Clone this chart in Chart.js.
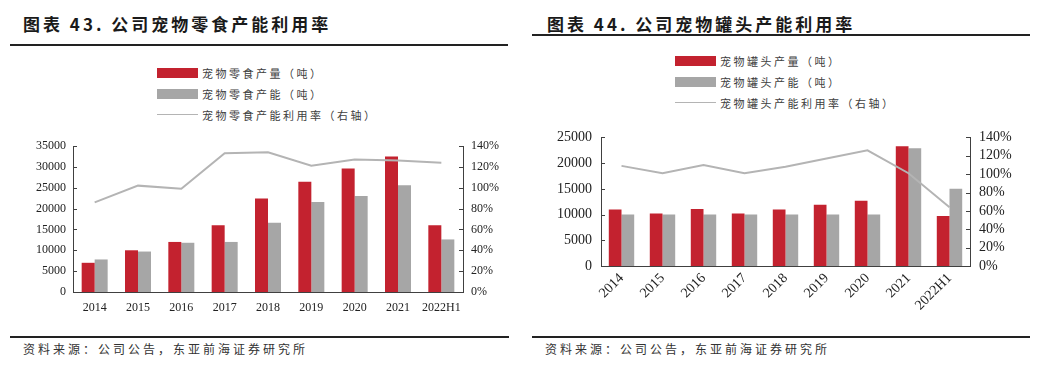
<!DOCTYPE html>
<html>
<head>
<meta charset="utf-8">
<script src="https://cdn.jsdelivr.net/npm/chart.js@4"></script>
<style>
  body { margin: 0; background: #fff; width: 1043px; height: 367px; position: relative; overflow: hidden; }
  .abs { position: absolute; }
  .title { font-family: "Noto Sans CJK SC", sans-serif; font-weight: bold; font-size: 17px; line-height: 20px; letter-spacing: 3px; color: #1a1a1a; white-space: nowrap; }
  .rule { background: #222; height: 2px; }
  .foot { font-family: "Noto Sans CJK SC", sans-serif; font-size: 12px; line-height: 14px; letter-spacing: 3px; color: #333; white-space: nowrap; }
  .legend { font-family: "Noto Sans CJK SC", sans-serif; font-size: 11px; letter-spacing: 2.5px; color: #404040; }
  .legend .row { display: flex; align-items: center; height: 21px; white-space: nowrap; }
  .legend .sw { width: 41px; margin-right: 4px; }
</style>
</head>
<body>
<div class="abs title" style="left:23px; top:14px;">图表 43. 公司宠物零食产能利用率</div>
<div class="abs rule" style="left:10px; top:44px; width:498px;"></div>
<div class="abs title" style="left:547px; top:14px;">图表 44. 公司宠物罐头产能利用率</div>
<div class="abs rule" style="left:532px; top:34px; width:498px;"></div>

<div id="legend1" class="abs legend" style="left:157px; top:62px;"></div>
<div id="legend2" class="abs legend" style="left:675px; top:50px;"></div>

<canvas id="snackChart" class="abs" width="520" height="190" style="left:0; top:130px;"></canvas>
<canvas id="canChart" class="abs" width="523" height="200" style="left:520px; top:120px;"></canvas>

<div class="abs rule" style="left:10px; top:336px; width:499px;"></div>
<div class="abs rule" style="left:532px; top:336px; width:498px;"></div>
<div class="abs foot" style="left:23px; top:342px;">资料来源：公司公告，东亚前海证券研究所</div>
<div class="abs foot" style="left:545px; top:342px;">资料来源：公司公告，东亚前海证券研究所</div>

<script>
// data
const years = ['2014', '2015', '2016', '2017', '2018', '2019', '2020', '2021', '2022H1'];

const snackOutput = [7000, 10000, 12000, 16000, 22400, 26400, 29600, 32500, 16000];
const snackCapacity = [7800, 9700, 11800, 12000, 16600, 21600, 23000, 25600, 12600];
const snackUtil = [86, 102, 99, 133, 134, 121, 127, 126, 124];
const snackLabels = ['宠物零食产量（吨）', '宠物零食产能（吨）', '宠物零食产能利用率（右轴）'];

const canOutput = [11000, 10200, 11100, 10200, 11000, 11900, 12700, 23300, 9700];
const canCapacity = [10000, 10000, 10000, 10000, 10000, 10000, 10000, 22900, 15000];
const canUtil = [109, 101, 110, 101, 108, 117, 126, 101, 64];
const canLabels = ['宠物罐头产量（吨）', '宠物罐头产能（吨）', '宠物罐头产能利用率（右轴）'];

const RED = '#C3222F';
const GRAY = '#A6A6A6';
const LINE = '#B4B4B4';
const AXIS = '#404040';

// ticks pointing into the plot, like the original
const inwardTicks = {
  id: 'inwardTicks',
  afterDraw(chart) {
    const ctx = chart.ctx;
    const a = chart.chartArea;
    ctx.save();
    ctx.strokeStyle = AXIS;
    ctx.lineWidth = 1;
    ['y', 'y1'].forEach(id => {
      const s = chart.scales[id];
      const x = id === 'y' ? a.left : a.right;
      const dir = id === 'y' ? 1 : -1;
      s.ticks.forEach((t, i) => {
        const py = Math.round(s.getPixelForTick(i)) + 0.5;
        ctx.beginPath();
        ctx.moveTo(x, py);
        ctx.lineTo(x + dir * 4, py);
        ctx.stroke();
      });
    });
    ctx.restore();
  }
};

function makeLegend(el, labels) {
  const swatches = [
    'height:10px;background:' + RED,
    'height:10px;background:' + GRAY,
    'height:1.5px;background:' + LINE
  ];
  el.innerHTML = labels.map((l, i) =>
    '<div class="row"><span class="sw" style="' + swatches[i] + '"></span>' + l + '</div>'
  ).join('');
}

function makeChart(id, out, cap, util, labels, cfg) {
  const tickFont = { family: 'Liberation Serif', size: cfg.fontSize };
  new Chart(document.getElementById(id), {
    data: {
      labels: years,
      datasets: [
        {
          type: 'line', label: labels[2], data: util, yAxisID: 'y1',
          borderColor: LINE, borderWidth: 2, pointRadius: 0, tension: 0, order: 0
        },
        {
          type: 'bar', label: labels[0], data: out, yAxisID: 'y',
          backgroundColor: RED, categoryPercentage: cfg.catPct, barPercentage: 1, order: 1
        },
        {
          type: 'bar', label: labels[1], data: cap, yAxisID: 'y',
          backgroundColor: GRAY, categoryPercentage: cfg.catPct, barPercentage: 1, order: 1
        }
      ]
    },
    options: {
      responsive: false,
      animation: false,
      devicePixelRatio: 1,
      layout: { padding: { top: cfg.top, left: 0, right: 0, bottom: 0 } },
      plugins: { legend: { display: false }, tooltip: { enabled: false } },
      scales: {
        x: {
          grid: { display: false, drawTicks: false },
          border: { display: true, color: AXIS, width: 1 },
          ticks: {
            font: tickFont, color: '#222', padding: cfg.xPad,
            maxRotation: cfg.rot, minRotation: cfg.rot, autoSkip: false
          },
          afterFit: s => { s.height = cfg.xHeight; }
        },
        y: {
          position: 'left', min: 0, max: cfg.yMax,
          grid: { display: false, drawTicks: false },
          border: { display: true, color: AXIS, width: 1 },
          ticks: {
            stepSize: 5000, autoSkip: false, font: tickFont, color: '#222', padding: cfg.yPad,
            callback: v => String(v)
          },
          afterFit: s => { s.width = cfg.yWidth; }
        },
        y1: {
          position: 'right', min: 0, max: 140,
          grid: { display: false, drawTicks: false },
          border: { display: true, color: AXIS, width: 1 },
          ticks: {
            stepSize: 20, autoSkip: false, font: tickFont, color: '#222', padding: cfg.y1Pad,
            callback: v => v + '%'
          },
          afterFit: s => { s.width = cfg.y1Width; }
        }
      }
    },
    plugins: [inwardTicks]
  });
}

makeLegend(document.getElementById('legend1'), snackLabels);
makeLegend(document.getElementById('legend2'), canLabels);

makeChart('snackChart', snackOutput, snackCapacity, snackUtil, snackLabels, {
  fontSize: 12, catPct: 0.6, top: 16, xHeight: 28, xPad: 9, rot: 0,
  yMax: 35000, yWidth: 73, y1Width: 57, yPad: 7, y1Pad: 8
});

makeChart('canChart', canOutput, canCapacity, canUtil, canLabels, {
  fontSize: 14, catPct: 0.62, top: 16, xHeight: 54, xPad: 4, rot: 45,
  yMax: 25000, yWidth: 81, y1Width: 73, yPad: 9, y1Pad: 9
});
</script>
</body>
</html>
